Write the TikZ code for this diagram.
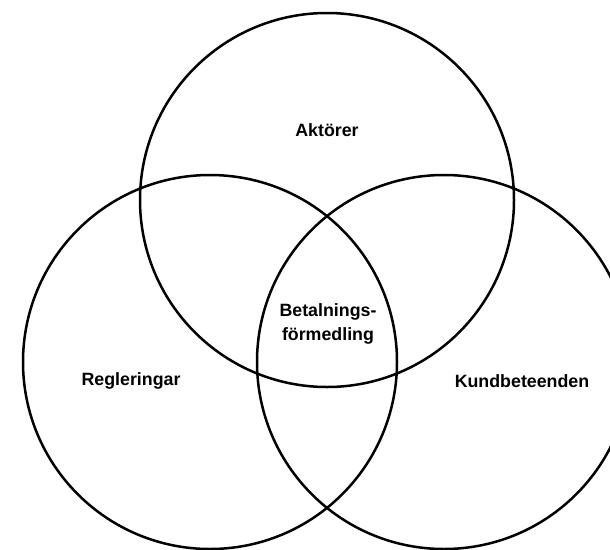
\documentclass[tikz,border=0pt]{standalone}
\usepackage{fontspec}
\setmainfont{Liberation Sans}
\begin{document}
\begin{tikzpicture}[x=1pt,y=-1pt,
  ring/.style={draw=black,line width=2.5pt,circle,minimum size=374pt,inner sep=0pt},
  lbl/.style={font=\bfseries\fontsize{17.8}{24}\selectfont,align=center,text=black}]
\useasboundingbox (0,0) rectangle (610,549);
\begin{scope}
\clip (0,0) rectangle (610,549);
\node[ring] (top) at (327,200) {};
\node[ring] (left) at (210,362) {};
\node[ring] (right) at (444,362) {};
\end{scope}
\node[lbl] (akt) at (327,130) {Aktörer};
\node[lbl] (reg) at (131,381) {Regleringar};
\node[lbl] (kund) at (522,381) {Kundbeteenden};
\node[lbl] (bet) at (328,324) {Betalnings-\\förmedling};
\end{tikzpicture}
\end{document}
